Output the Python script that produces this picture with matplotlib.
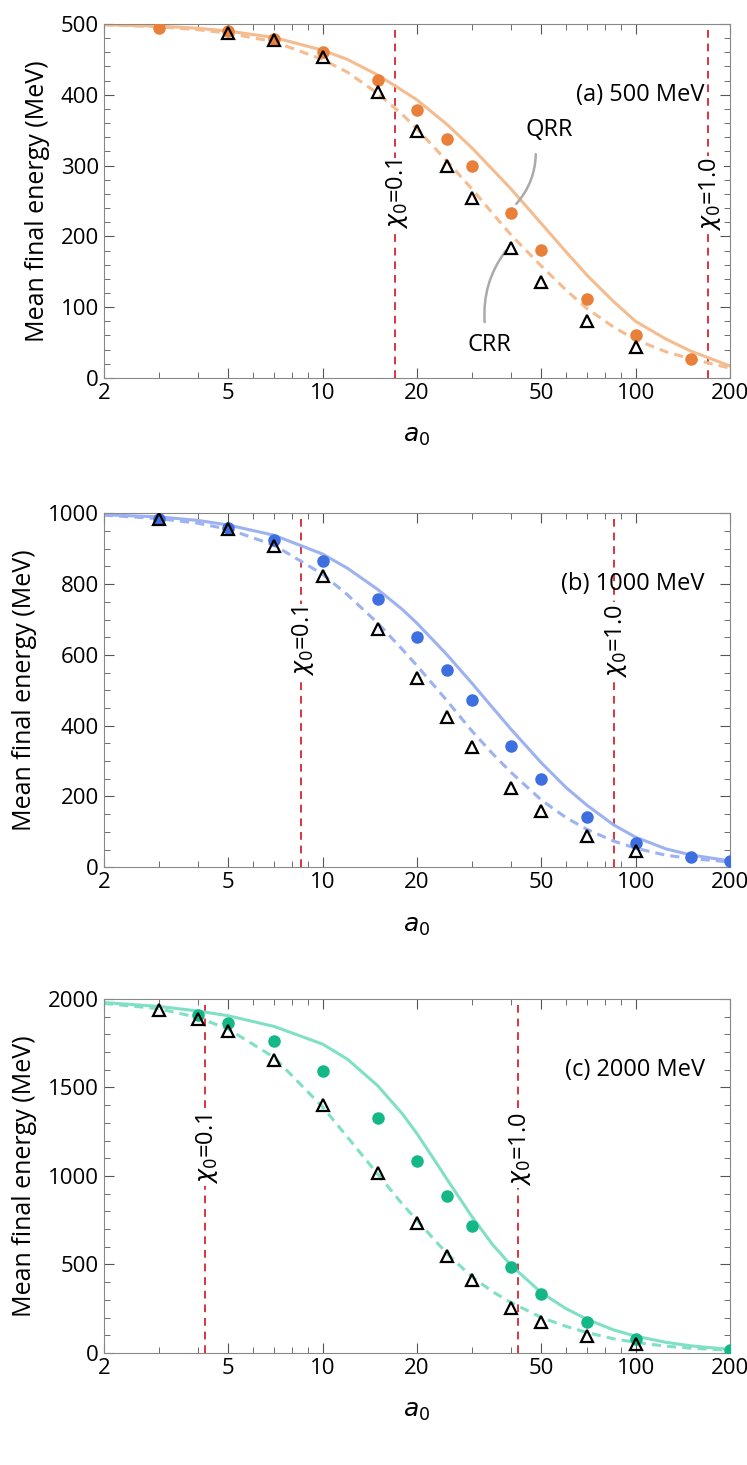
import matplotlib
matplotlib.use("Agg")
import matplotlib.pyplot as plt
from matplotlib.ticker import FixedLocator, NullFormatter, AutoMinorLocator

plt.rcParams['font.family'] = ['Open Sans', 'DejaVu Sans']
plt.rcParams['mathtext.fontset'] = 'dejavusans'

# Panel (a) 500 MeV
a_circ_x = [3, 5, 7, 10, 15, 20, 25, 30, 40, 50, 70, 100, 150]
a_circ_y = [495, 490, 479, 460, 421, 379, 338, 299, 233, 181, 112, 60, 27]
a_tri_x = [5, 7, 10, 15, 20, 25, 30, 40, 50, 70, 100]
a_tri_y = [488, 477, 453, 404, 349, 299, 254, 184, 136, 80, 44]
a_qrr_x = [2, 3, 4, 5, 7, 10, 12, 15, 18, 20, 25, 30, 35, 40, 50, 60, 70, 85, 100, 125, 150, 200]
a_qrr_y = [499, 497, 494, 490, 481, 463, 450, 428, 406, 393, 358, 325, 294, 267, 218, 178, 145, 108, 80, 55, 38, 17]
a_crr_x = [2, 3, 4, 5, 7, 10, 12, 15, 18, 20, 25, 30, 35, 40, 50, 60, 70, 85, 100, 125, 150, 200]
a_crr_y = [499, 496, 492, 487, 475, 450, 432, 402, 372, 352, 306, 267, 232, 202, 158, 124, 98, 72, 54, 37, 27, 14]

# Panel (b) 1000 MeV
b_circ_x = [3, 5, 7, 10, 15, 20, 25, 30, 40, 50, 70, 100, 150, 200]
b_circ_y = [985, 958, 925, 866, 757, 652, 556, 472, 342, 250, 142, 68, 30, 17]
b_tri_x = [3, 5, 7, 10, 15, 20, 25, 30, 40, 50, 70, 100]
b_tri_y = [985, 955, 908, 822, 672, 535, 424, 340, 224, 159, 89, 47]
b_qrr_x = [2, 3, 4, 5, 7, 10, 12, 15, 18, 20, 25, 30, 35, 40, 50, 60, 70, 85, 100, 125, 150, 200]
b_qrr_y = [996, 990, 980, 967, 938, 885, 845, 785, 728, 690, 600, 520, 450, 390, 295, 225, 175, 120, 85, 52, 35, 18]
b_crr_x = [2, 3, 4, 5, 7, 10, 12, 15, 18, 20, 25, 30, 35, 40, 50, 60, 70, 85, 100, 125, 150, 200]
b_crr_y = [995, 985, 972, 955, 910, 828, 770, 690, 615, 570, 470, 385, 320, 268, 190, 140, 107, 74, 54, 34, 25, 15]

# Panel (c) 2000 MeV
c_circ_x = [4, 5, 7, 10, 15, 20, 25, 30, 40, 50, 70, 100, 200]
c_circ_y = [1910, 1865, 1760, 1595, 1325, 1085, 885, 720, 487, 335, 175, 80, 15]
c_tri_x = [3, 4, 5, 7, 10, 15, 20, 25, 30, 40, 50, 70, 100]
c_tri_y = [1935, 1885, 1820, 1655, 1400, 1015, 735, 545, 410, 255, 175, 95, 50]
c_qrr_x = [2, 3, 4, 5, 7, 10, 12, 15, 18, 20, 22, 25, 30, 35, 40, 50, 60, 70, 85, 100, 125, 150, 200]
c_qrr_y = [1980, 1958, 1932, 1905, 1845, 1745, 1660, 1510, 1350, 1240, 1130, 980, 770, 610, 495, 340, 250, 190, 130, 95, 60, 40, 20]
c_crr_x = [2, 3, 4, 5, 7, 10, 12, 15, 18, 20, 25, 30, 35, 40, 50, 60, 70, 85, 100, 125, 150, 200]
c_crr_y = [1975, 1945, 1895, 1830, 1670, 1390, 1220, 1010, 840, 750, 560, 430, 345, 285, 200, 150, 115, 80, 60, 38, 27, 15]

panels = [
    dict(cx=a_circ_x, cy=a_circ_y, tx=a_tri_x, ty=a_tri_y, qx=a_qrr_x, qy=a_qrr_y,
         rx=a_crr_x, ry=a_crr_y, dot='#E8803A', line='#F5BC8F', ymax=500, yticks=[0,100,200,300,400,500],
         vl=[17, 170], label='(a) 500 MeV', vt_y=260, bottom=0.742, minor=5),
    dict(cx=b_circ_x, cy=b_circ_y, tx=b_tri_x, ty=b_tri_y, qx=b_qrr_x, qy=b_qrr_y,
         rx=b_crr_x, ry=b_crr_y, dot='#3D6FE0', line='#9DB2F0', ymax=1000, yticks=[0,200,400,600,800,1000],
         vl=[8.5, 85], label='(b) 1000 MeV', vt_y=640, bottom=0.408, minor=4),
    dict(cx=c_circ_x, cy=c_circ_y, tx=c_tri_x, ty=c_tri_y, qx=c_qrr_x, qy=c_qrr_y,
         rx=c_crr_x, ry=c_crr_y, dot='#14B886', line='#80E0C6', ymax=2000, yticks=[0,500,1000,1500,2000],
         vl=[4.2, 42], label='(c) 2000 MeV', vt_y=1150, bottom=0.0765, minor=5),
]

fig = plt.figure(figsize=(7.47, 14.65), dpi=100)
for p in panels:
    ax = fig.add_axes([0.139, p['bottom'], 0.838, 0.2416])
    ax.set_xscale('log')
    ax.set_xlim(2, 200)
    ax.set_ylim(0, p['ymax'])
    ax.plot(p['qx'], p['qy'], '-', color=p['line'], lw=2.2, zorder=2)
    ax.plot(p['rx'], p['ry'], '--', color=p['line'], lw=2.2, dashes=(3, 2), zorder=2)
    ax.plot(p['cx'], p['cy'], 'o', color=p['dot'], ms=8, zorder=3)
    ax.plot(p['tx'], p['ty'], '^', mfc='none', mec='black', mew=1.6, ms=8, zorder=4)
    for v, t in zip(p['vl'], ['0.1', '1.0']):
        ax.axvline(v, color='#D9363E', ls='--', lw=1.4, dashes=(4, 3), zorder=1)
        ax.text(v * 1.015, p['vt_y'], r'$\chi_0$=' + t, rotation=90, ha='center', va='center',
                fontsize=17, bbox=dict(fc='white', ec='none', pad=1), zorder=5)
    ax.text(0.96, 0.80, p['label'], transform=ax.transAxes, ha='right', va='center', fontsize=17)
    ax.xaxis.set_major_locator(FixedLocator([2, 5, 10, 20, 50, 100, 200]))
    ax.set_xticklabels(['2', '5', '10', '20', '50', '100', '200'])
    ax.xaxis.set_minor_locator(FixedLocator([3, 4, 6, 7, 8, 9, 30, 40, 60, 70, 80, 90]))
    ax.xaxis.set_minor_formatter(NullFormatter())
    ax.set_yticks(p['yticks'])
    ax.yaxis.set_minor_locator(AutoMinorLocator(p['minor']))
    ax.tick_params(which='both', direction='in', top=True, right=True, labelsize=16, color='#555555')
    ax.tick_params(which='major', length=7)
    ax.tick_params(which='minor', length=4)
    for s in ax.spines.values():
        s.set_color('#888888')
    ax.set_ylabel('Mean final energy (MeV)', fontsize=18, labelpad=8)
    ax.set_xlabel(r'$a_0$', fontsize=18, labelpad=14)
    if p['ymax'] == 500:
        ax.text(53, 350, 'QRR', fontsize=17, ha='center', va='center')
        ax.text(34, 47, 'CRR', fontsize=17, ha='center', va='center')
        ax.annotate('', xy=(41, 243), xytext=(48, 320),
                    arrowprops=dict(arrowstyle='-', color='#AAAAAA', lw=1.8, connectionstyle='arc3,rad=-0.2'))
        ax.annotate('', xy=(39, 183), xytext=(33, 75),
                    arrowprops=dict(arrowstyle='-', color='#AAAAAA', lw=1.8, connectionstyle='arc3,rad=-0.2'))

fig.savefig('out.png', dpi=100)
